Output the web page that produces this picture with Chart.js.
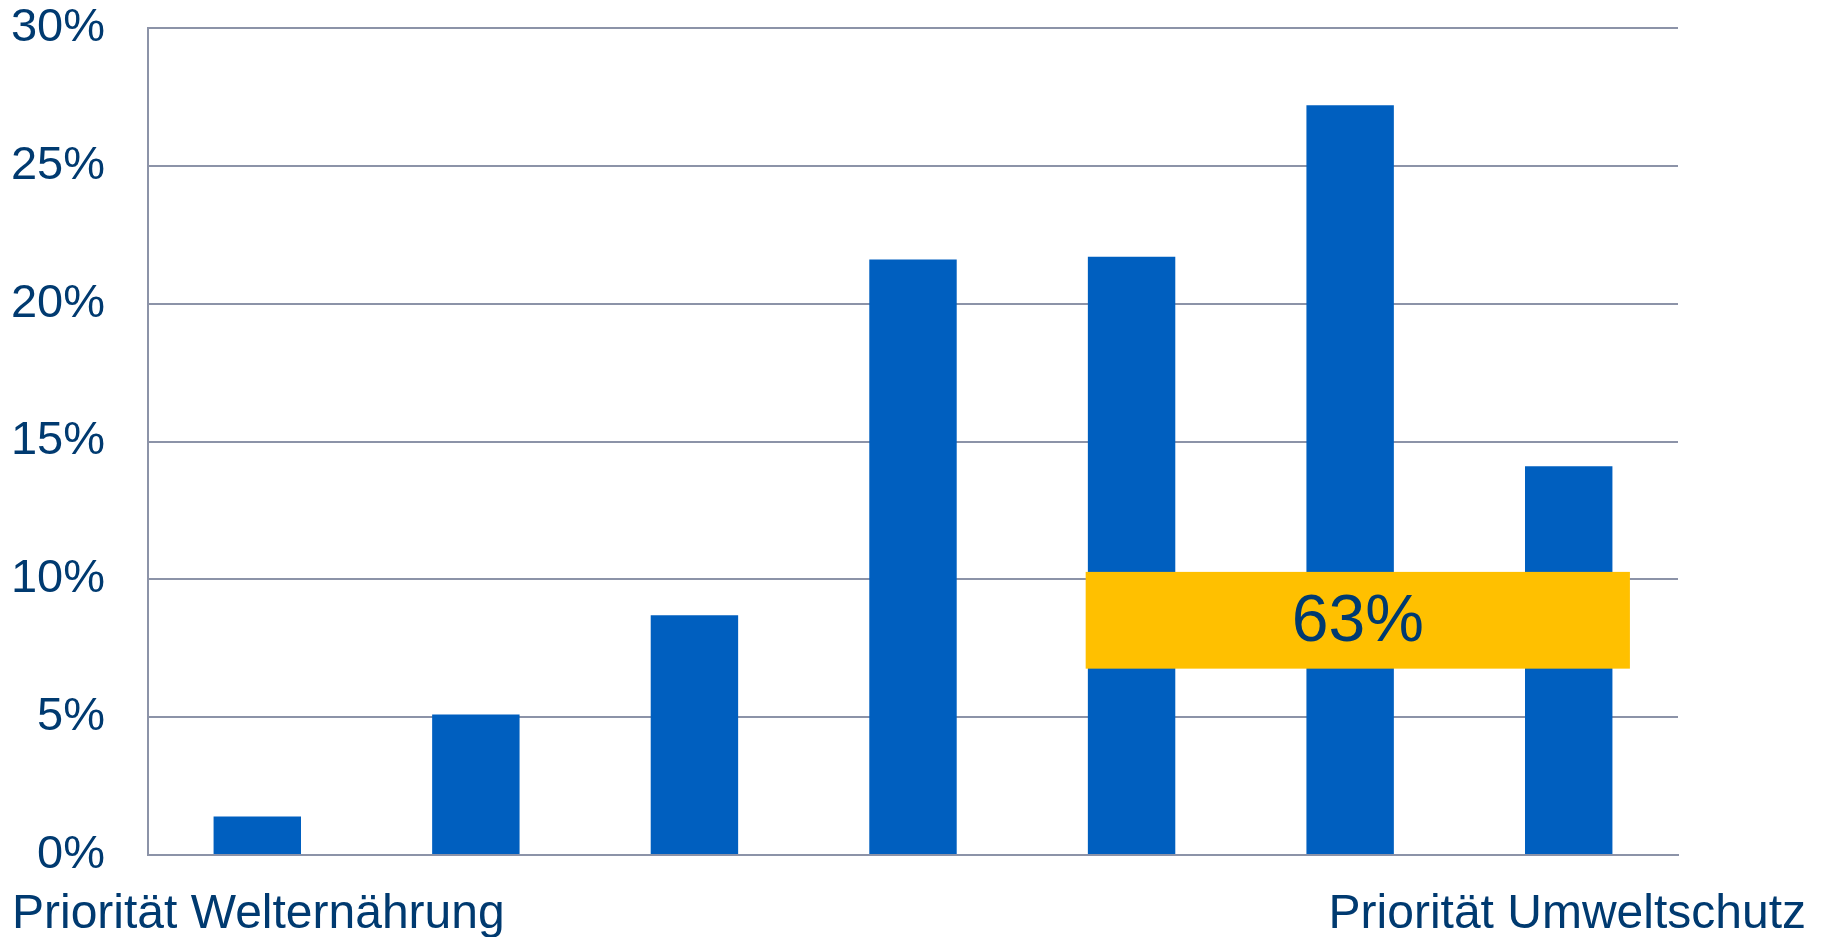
<!DOCTYPE html>
<html>
<head>
<meta charset="utf-8">
<script src="https://cdn.jsdelivr.net/npm/chart.js@4"></script>
<style>
  html, body { margin: 0; padding: 0; background: #fff; }
  #wrap { width: 1825px; height: 937px; }
</style>
</head>
<body>
<div id="wrap"><canvas id="prioChart"></canvas></div>
<script>
// data
const categories = ['1', '2', '3', '4', '5', '6', '7'];
const shares = [1.4, 5.1, 8.7, 21.6, 21.7, 27.2, 14.1];
const yTicks = [0, 5, 10, 15, 20, 25, 30];
const endLabels = ['Priorität Welternährung', 'Priorität Umweltschutz'];
const highlightText = '63%';
// highlight box in data units: category index range, value range
const highlightX = [3.79, 6.28];
const highlightY = [6.76, 10.27];

const navy = '#003a70';
const gridGray = '#8c93a8';
const fontFamily = '"Liberation Sans", Arial, sans-serif';

const highlightPlugin = {
    id: 'highlight',
    afterDatasetsDraw(chart) {
        const ctx = chart.ctx;
        const xs = chart.scales.x;
        const ys = chart.scales.y;
        const x1 = xs.getPixelForValue(highlightX[0]);
        const x2 = xs.getPixelForValue(highlightX[1]);
        const y1 = ys.getPixelForValue(highlightY[1]);
        const y2 = ys.getPixelForValue(highlightY[0]);
        ctx.save();
        ctx.fillStyle = '#ffc000';
        ctx.fillRect(x1, y1, x2 - x1, y2 - y1);
        ctx.fillStyle = navy;
        ctx.font = '66px ' + fontFamily;
        ctx.textAlign = 'center';
        ctx.textBaseline = 'middle';
        ctx.fillText(highlightText, (x1 + x2) / 2, (y1 + y2) / 2 + 3);
        ctx.restore();
    },
    afterDraw(chart) {
        const ctx = chart.ctx;
        ctx.save();
        ctx.fillStyle = navy;
        ctx.font = '48px ' + fontFamily;
        ctx.textBaseline = 'alphabetic';
        ctx.textAlign = 'left';
        ctx.fillText(endLabels[0], 12, 928);
        ctx.textAlign = 'right';
        ctx.fillText(endLabels[1], chart.width - 19, 928);
        ctx.restore();
    }
};

new Chart(document.getElementById('prioChart'), {
    type: 'bar',
    data: {
        labels: categories,
        datasets: [{
            data: shares,
            backgroundColor: '#005fbf',
            borderWidth: 0,
            barPercentage: 0.4,
            categoryPercentage: 1.0
        }]
    },
    options: {
        responsive: true,
        maintainAspectRatio: false,
        animation: false,
        layout: {
            padding: { top: 28, right: 147, bottom: 82, left: 0 }
        },
        plugins: {
            legend: { display: false },
            tooltip: { enabled: false }
        },
        scales: {
            x: {
                ticks: { display: false },
                grid: { display: false, drawTicks: false },
                border: { display: true, color: gridGray, width: 2 }
            },
            y: {
                min: 0,
                max: 30,
                afterBuildTicks(scale) {
                    scale.ticks = yTicks.map(v => ({ value: v }));
                },
                afterFit(scale) {
                    scale.width = 148;
                    scale.paddingTop = 0;
                    scale.paddingBottom = 0;
                },
                ticks: {
                    padding: 43,
                    color: navy,
                    font: { family: fontFamily, size: 47 },
                    callback: v => v + '%'
                },
                grid: { color: gridGray, lineWidth: 2, drawTicks: false },
                border: { display: true, color: gridGray, width: 2 }
            }
        }
    },
    plugins: [highlightPlugin]
});
</script>
</body>
</html>
